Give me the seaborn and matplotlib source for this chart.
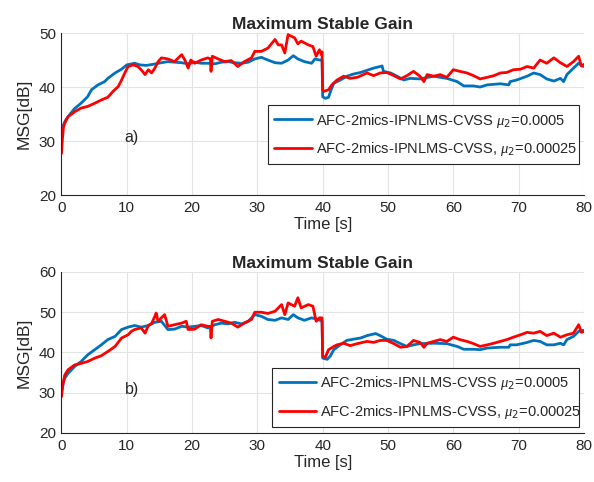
import pandas as pd
import matplotlib
matplotlib.use("Agg")
import matplotlib.pyplot as plt
import seaborn as sns

# (time [s], MSG [dB])
a_blue = [(0, 31.7), (0.3, 33.0), (0.6, 33.8), (1, 34.5), (2, 36.0), (3, 37.0), (4, 38.2), (4.6, 39.5),
          (5.6, 40.4), (6.6, 41.0), (7.1, 41.6), (8.2, 42.6), (9.2, 43.3), (10, 44.1), (11.2, 44.4),
          (12, 44.1), (13, 44.0), (14, 44.2), (15.3, 44.5), (16.3, 44.7), (17.3, 44.6), (18.4, 44.5),
          (19.4, 44.3), (20.4, 44.6), (21.4, 44.4), (22.4, 44.4), (23.5, 44.3), (24.5, 44.6), (25.5, 44.7),
          (26.5, 44.5), (27.6, 44.4), (28.6, 44.6), (29.6, 45.2), (30.6, 45.5), (31.6, 45.0), (32.7, 44.5),
          (33.7, 44.4), (34.7, 45.0), (35.5, 45.8), (36.2, 45.2), (37.2, 44.7), (38.3, 44.4), (38.8, 45.2),
          (39.5, 45.0), (39.9, 45.0), (40.0, 38.2), (40.4, 37.9), (40.9, 38.1), (41.2, 39.2), (41.7, 40.7),
          (42.7, 41.3), (43.7, 42.0), (44.7, 42.4), (45.8, 42.7), (46.8, 43.1), (47.8, 43.5), (48.8, 43.8),
          (49.1, 43.9), (49.3, 42.9), (50.4, 42.6), (51.4, 42.0), (52.4, 41.3), (53.4, 41.6), (54.9, 41.5),
          (57, 42.0), (59, 41.6), (60.6, 41.0), (61.6, 40.2), (63.1, 40.2), (64.1, 40.0), (65.2, 40.4),
          (67.2, 40.6), (68.5, 40.4), (68.7, 41.0), (69.7, 41.3), (71.3, 42.0), (72.3, 42.6), (73.3, 42.3),
          (74.3, 41.5), (75.4, 41.1), (76.4, 41.6), (76.9, 41.0), (77.4, 42.3), (78.4, 43.5), (79.2, 44.4),
          (79.9, 43.8)]

a_red = [(0, 27.7), (0.15, 30.5), (0.3, 32.5), (0.5, 33.3), (1, 34.5), (2, 35.4), (3, 36.1), (4, 36.4),
         (5.1, 37.0), (6.1, 37.6), (7.1, 38.1), (7.9, 39.2), (8.7, 40.1), (9.2, 41.3), (9.7, 42.6),
         (10.2, 43.8), (11, 44.1), (11.7, 43.8), (12.2, 43.2), (12.8, 42.3), (13.3, 43.2), (13.8, 42.6),
         (14.3, 43.5), (14.8, 44.7), (15.3, 45.4), (16.3, 45.2), (17.3, 44.7), (18.4, 46.0), (18.9, 45.0),
         (19.4, 43.5), (19.8, 45.0), (20.4, 44.4), (21.4, 45.0), (22.4, 45.4), (22.8, 45.2), (22.9, 42.9),
         (23.1, 45.7), (24, 45.2), (25, 44.7), (26, 44.9), (27, 43.8), (28, 44.7), (29.1, 45.4),
         (29.6, 46.6), (30.6, 46.6), (31.6, 47.2), (32.7, 48.8), (33.2, 47.8), (33.7, 47.8), (34.2, 46.3),
         (34.7, 49.7), (35.7, 49.1), (36.2, 48.0), (36.7, 48.5), (37.8, 47.8), (38.5, 47.5), (39, 45.7),
         (39.5, 46.9), (39.8, 46.0), (39.9, 46.5), (40, 39.5), (40.2, 39.2), (40.9, 39.5), (41.4, 40.4),
         (42.2, 41.3), (43.2, 42.0), (44.2, 41.6), (45.3, 41.8), (46.8, 42.6), (47.8, 42.1), (48.8, 42.6),
         (49.8, 42.7), (50.9, 42.1), (51.9, 41.5), (52.9, 42.1), (53.9, 42.9), (54.9, 42.0), (55.5, 41.0),
         (56, 42.3), (57, 42.0), (58, 42.3), (59, 41.8), (60, 43.2), (61, 42.9), (62.1, 42.6), (63.1, 42.1),
         (64.1, 41.5), (65.2, 41.8), (66.2, 42.1), (67.2, 42.6), (68.2, 42.7), (69.2, 43.2), (70.3, 43.3),
         (71.3, 43.8), (72.3, 43.5), (73.3, 45.0), (74.3, 44.4), (75.4, 45.4), (76.4, 44.5), (77.4, 43.8),
         (78.4, 44.7), (79.2, 45.7), (79.6, 43.9), (80, 44.2)]

b_blue = [(0, 29.8), (0.25, 32.3), (0.5, 33.6), (1, 34.8), (2, 36.5), (3, 37.75), (4, 39.4), (5.1, 40.7),
          (6.1, 41.9), (7.1, 43.2), (8.2, 44.0), (9.2, 45.7), (10.2, 46.3), (11.2, 46.7), (12.2, 46.3),
          (13.3, 46.7), (14.3, 47.5), (15.3, 47.75), (16.3, 45.7), (17.3, 45.8), (18.4, 46.5), (19.4, 46.3),
          (20.4, 46.5), (21.4, 46.7), (22.4, 46.1), (23.5, 46.9), (24.5, 47.3), (25.5, 47.1), (26.5, 47.5),
          (27.6, 47.1), (28.6, 47.75), (29.6, 49.4), (30.6, 49.0), (31.6, 48.2), (32.7, 48.0), (33.7, 48.6),
          (34.7, 48.2), (35.5, 49.4), (36.2, 48.6), (37.2, 48.0), (38.3, 48.6), (39.3, 48.2), (39.9, 47.8),
          (40, 38.6), (40.7, 38.3), (41.2, 39.2), (41.7, 40.7), (42.7, 41.9), (43.7, 43.0), (44.7, 43.3),
          (45.8, 43.6), (46.8, 44.2), (48.1, 44.7), (48.8, 44.2), (49.8, 43.3), (50.9, 43.0), (51.9, 42.2),
          (52.9, 41.5), (53.9, 41.9), (54.9, 42.2), (57, 42.3), (59, 42.2), (60.6, 41.5), (61.6, 40.8),
          (63.1, 40.8), (64.1, 40.7), (65.2, 41.1), (67.2, 41.3), (68.5, 41.3), (68.7, 41.9), (69.7, 41.9),
          (71.3, 42.5), (72.3, 43.0), (73.3, 42.75), (74.3, 41.9), (75.4, 41.9), (76.4, 42.3), (76.9, 41.9),
          (77.4, 43.2), (78.4, 44.0), (79.2, 45.25), (79.9, 45.5)]

b_red = [(0, 29.0), (0.1, 30.7), (0.25, 32.3), (0.5, 34.4), (1, 35.7), (2, 36.9), (3, 37.3), (4, 37.75),
         (5.1, 38.6), (6.1, 39.2), (7.1, 40.25), (8.2, 41.5), (9.2, 43.6), (10.2, 44.4), (10.7, 45.25),
         (11.2, 45.7), (12.2, 46.1), (12.8, 44.8), (13.3, 46.7), (13.8, 47.2), (14.3, 49.0), (14.5, 49.8),
         (14.8, 47.75), (15.3, 48.6), (15.8, 49.4), (16.3, 46.5), (17.3, 46.9), (18.4, 47.3), (19.1, 47.75),
         (19.4, 45.7), (20.4, 45.8), (21.4, 46.9), (22.4, 46.5), (22.8, 46.5), (22.9, 43.6), (23.1, 47.75),
         (24, 48.2), (25, 47.75), (26, 47.3), (27, 46.3), (28, 47.3), (29.1, 48.2), (29.6, 50.0),
         (30.6, 50.0), (31.6, 49.7), (32.7, 50.25), (33.7, 51.9), (34.2, 49.4), (34.7, 52.3), (35.7, 51.5),
         (36.2, 53.6), (36.7, 51.1), (37.8, 51.9), (38.5, 51.5), (39, 47.75), (39.5, 48.6), (39.9, 48.6),
         (40, 39.0), (40.4, 38.8), (40.9, 40.7), (41.7, 41.5), (42.2, 41.9), (43.2, 42.3), (44.2, 41.7),
         (45.3, 42.2), (46.8, 42.75), (47.8, 42.5), (48.8, 43.0), (49.8, 43.0), (50.9, 42.2), (51.9, 41.3),
         (52.9, 41.5), (53.9, 43.0), (54.9, 42.5), (55.5, 41.3), (56, 42.3), (57, 42.75), (58, 43.2),
         (59, 42.75), (60, 43.8), (61, 43.2), (62.1, 42.75), (63.1, 42.2), (64.1, 41.5), (65.2, 41.9),
         (66.2, 42.3), (67.2, 42.75), (68.2, 43.2), (69.2, 43.8), (70.3, 44.4), (71.3, 45.0), (72.3, 44.8),
         (73.3, 45.25), (74.3, 44.2), (75.4, 44.8), (76.4, 43.8), (77.4, 44.4), (78.4, 44.8), (79.2, 46.9),
         (79.6, 45.0), (80, 45.25)]

labels = ["AFC-2mics-IPNLMS-CVSS $\\mu_2$=0.0005",
          "AFC-2mics-IPNLMS-CVSS, $\\mu_2$=0.00025"]
colors = ["#0072BD", "#FF0000"]
panel_tags = ["a)", "b)"]
y_ticks = [[20, 30, 40, 50], [20, 30, 40, 50, 60]]

sns.set_style("white")
plt.rcParams["font.family"] = ["Liberation Sans", "DejaVu Sans"]
plt.rcParams["mathtext.fontset"] = "custom"
plt.rcParams["mathtext.it"] = "Liberation Serif:italic"

fig = plt.figure(figsize=(5.94, 4.82), dpi=100)
axes = [fig.add_axes([0.1035, 0.5954, 0.8795, 0.3361]),
        fig.add_axes([0.1035, 0.1017, 0.8795, 0.334])]
legend_anchors = [(0.395, 0.2, 0.595, 0.345), (0.403, 0.05, 0.587, 0.34)]

for i, (ax, series) in enumerate(zip(axes, [(a_blue, a_red), (b_blue, b_red)])):
    for pts, lab in zip(series, labels):
        df = pd.DataFrame(pts, columns=["time", "msg"])
        df["run"] = lab
        sns.lineplot(data=df, x="time", y="msg", hue="run", palette={lab: colors[labels.index(lab)]},
                     sort=False, estimator=None, linewidth=2, legend=False, ax=ax)
    ax.set_xlim(0, 80)
    ax.set_ylim(y_ticks[i][0], y_ticks[i][-1])
    ax.set_xticks(range(0, 81, 10))
    ax.set_yticks(y_ticks[i])
    ax.grid(True, color="#e3e3e3", linewidth=0.8)
    ax.set_axisbelow(True)
    for s in ["top", "right"]:
        ax.spines[s].set_visible(False)
    for s in ["left", "bottom"]:
        ax.spines[s].set_color("#262626")
        ax.spines[s].set_linewidth(0.8)
    ax.tick_params(direction="in", length=4, labelsize=11, colors="#262626", width=0.8, pad=4)
    ax.set_title("Maximum Stable Gain", fontsize=12.5, fontweight="bold", pad=3)
    ax.set_xlabel("Time [s]", fontsize=12, labelpad=2)
    ax.set_ylabel("MSG[dB]", fontsize=12.5, labelpad=5)
    ax.text(9.7, 30.7, panel_tags[i], fontsize=11.5, va="center", ha="left")
    leg = ax.legend(ax.get_lines(), labels, loc="center", bbox_to_anchor=legend_anchors[i],
                    mode="expand", fontsize=10.5, handlelength=2.6, handletextpad=0.25,
                    borderaxespad=0, borderpad=0.45, labelspacing=0.7, fancybox=False,
                    framealpha=1)
    leg.get_frame().set_edgecolor("#262626")
    leg.get_frame().set_linewidth(0.8)

fig.savefig("out.png", dpi=100)
